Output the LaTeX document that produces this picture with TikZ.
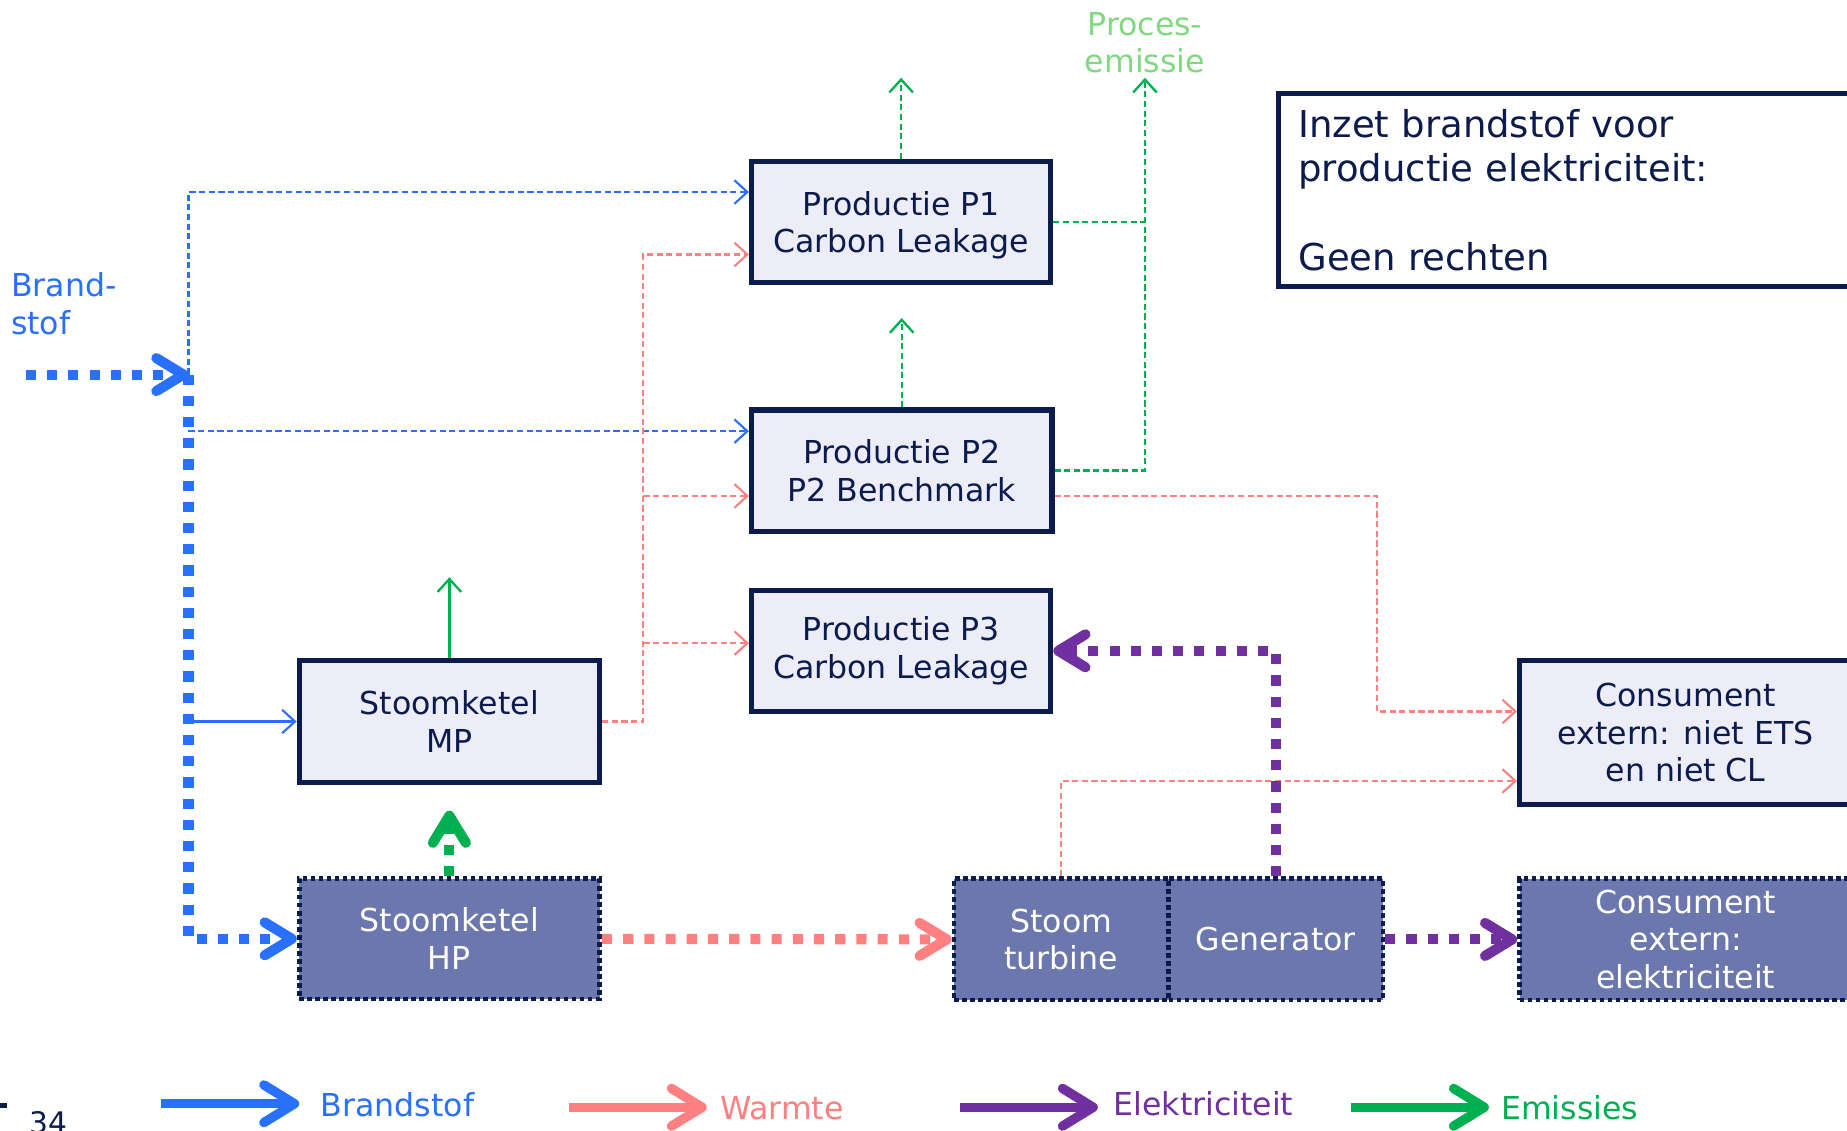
\documentclass[tikz,border=0pt]{standalone}
\usepackage{fontspec}
\setmainfont{DejaVu Sans}
\usetikzlibrary{arrows.meta,calc}
\definecolor{navy}{HTML}{0B1B4D}
\definecolor{boxfill}{HTML}{ECEDF6}
\definecolor{darkfill}{HTML}{6C78AD}
\definecolor{brandblue}{HTML}{2970FF}
\definecolor{warm}{HTML}{FF8080}
\definecolor{elec}{HTML}{7030A0}
\definecolor{emis}{HTML}{00B050}
\definecolor{lightemis}{HTML}{80D880}
\begin{document}
\begin{tikzpicture}[x=0.5pt,y=-0.5pt,
  boxfont/.style={font=\fontsize{13.4}{16}\selectfont},
  lightbox/.style={boxfont,draw=navy,line width=2.2pt,fill=boxfill,text=navy,align=center,inner sep=0pt},
  darkbox/.style={boxfont,draw=navy,line width=2pt,dash pattern=on 2pt off 1.4pt,fill=darkfill,text=white,align=center,inner sep=0pt},
  thinc/.style={draw=#1,line width=0.9pt,dash pattern=on 2.6pt off 1.5pt,-{Straight Barb[length=5.5pt,width=10pt]}},
  thickc/.style={draw=#1,line width=4.3pt,dash pattern=on 4.3pt off 4.7pt,-{Straight Barb[length=11.5pt,width=14pt,round]}},
  legarrow/.style={draw=#1,line width=4pt,-{Straight Barb[length=13pt,width=16pt,round]}},
  legtext/.style={boxfont,text=#1,anchor=base west,inner sep=0pt},
]
\useasboundingbox (0,0) rectangle (1568,960);

% boxes
\node[lightbox,minimum width=127pt,minimum height=51.5pt,text depth=-1pt] (P1) at (765,188.5) {Productie P1\\Carbon Leakage};
\node[lightbox,minimum width=127.5pt,minimum height=51.5pt] (P2) at (765.5,399.5) {Productie P2\\P2 Benchmark};
\node[lightbox,minimum width=127pt,minimum height=51.5pt] (P3) at (765,552.5) {Productie P3\\Carbon Leakage};
\node[lightbox,minimum width=127.5pt,minimum height=51.5pt] (MP) at (381.5,612.5) {Stoomketel\\MP};
\node[darkbox,minimum width=127.5pt,minimum height=51pt] (HP) at (381.5,797) {Stoomketel\\HP};
\node[darkbox,minimum width=91pt,minimum height=51.5pt] (TB) at (901,797.5) {Stoom\\turbine};
\node[darkbox,minimum width=91pt,minimum height=51.5pt] (GEN) at (1083,797.5) {Generator};
\node[lightbox,minimum width=141pt,minimum height=61pt] (CN) at (1431,622) {Consument\\extern: niet ETS\\en niet CL};
\node[darkbox,minimum width=141pt,minimum height=51.5pt] (CE) at (1431,797.5) {Consument\\extern:\\elektriciteit};
\node[draw=navy,line width=2.2pt,fill=white,text=navy,anchor=north west,
      minimum width=245.5pt,minimum height=82pt,text width=228.5pt,inner xsep=7.5pt,align=left,
      font=\fontsize{15.7}{18.8}\selectfont] (INZ) at (1083,77)
      {Inzet brandstof voor\\productie elektriciteit:\\[18.8pt]Geen rechten};

% labels
\node[boxfont,text=brandblue,align=left,anchor=north west,inner sep=0pt] (LB) at (9,231) {Brand-\\stof};
\node[boxfont,text=lightemis,align=center,anchor=north,inner sep=0pt] (LP) at (972,10) {Proces-\\emissie};

% fuel
\coordinate (BS) at (22,318);
\coordinate (J) at (160,318);
\draw[thickc=brandblue] (BS) -- (J);
\draw[thickc=brandblue] (J) |- (HP.west);
\draw[thinc=brandblue] (J) |- ([yshift=12.75pt]P1.west);
\coordinate (P2b) at ([yshift=16.75pt]P2.west);
\draw[thinc=brandblue] (J |- P2b) -- (P2b);
\draw[brandblue,line width=0.9pt,-{Straight Barb[length=5.5pt,width=10pt]}] (J |- MP.west) -- (MP.west);

% heat
\coordinate (RV) at ([xshift=17.5pt]MP.east);
\draw[thinc=warm] (MP.east) -- (RV) |- ([yshift=-13.75pt]P1.west);
\coordinate (P2r) at ([yshift=-10.75pt]P2.west);
\draw[thinc=warm] (RV |- P2r) -- (P2r);
\coordinate (P3r) at ([yshift=3.25pt]P3.west);
\draw[thinc=warm] (RV |- P3r) -- (P3r);
\coordinate (RX) at (1169,421);
\draw[thinc=warm] ([yshift=-10.75pt]P2.east) -- (RX) |- ([yshift=9pt]CN.west);
\draw[thinc=warm] (TB.north) |- ([yshift=-20.5pt]CN.west);
\draw[thickc=warm] (HP.east) -- (TB.west);

% electricity
\draw[thickc=elec] (GEN.north) |- (P3.east);
\draw[thickc=elec] (GEN.east) -- (CE.west);

% emissions
\coordinate (E1) at (766,66);
\coordinate (E2) at (766,270);
\coordinate (E3) at (382,490);
\coordinate (PE) at (972,66);
\draw[thinc=emis,line width=1pt] (P1.north) -- (P1.north |- E1);
\draw[thinc=emis,line width=1pt] (P2.north) -- (P2.north |- E2);
\draw[thinc=emis,line width=1pt,-] (P1.east) -- (PE |- P1.east);
\draw[thinc=emis,line width=1pt] (P2.east) -| (PE);
\draw[emis,line width=1pt,-{Straight Barb[length=5.5pt,width=10pt]}] (MP.north) -- (MP.north |- E3);
\draw[thickc=emis,shorten >=11pt] (HP.north) -- (MP.south);

% legend
\coordinate (L1a) at (137,937); \coordinate (L1b) at (254,937);
\coordinate (L2a) at (483,940); \coordinate (L2b) at (600,940);
\coordinate (L3a) at (815,940); \coordinate (L3b) at (932,940);
\coordinate (L4a) at (1147,940); \coordinate (L4b) at (1264,940);
\draw[legarrow=brandblue] (L1a) -- (L1b);
\draw[legarrow=warm] (L2a) -- (L2b);
\draw[legarrow=elec] (L3a) -- (L3b);
\draw[legarrow=emis] (L4a) -- (L4b);
\node[legtext=brandblue] (T1) at (272,948) {Brandstof};
\node[legtext=warm] (T2) at (611,950) {Warmte};
\node[legtext=elec] (T3) at (945,947) {Elektriciteit};
\node[legtext=emis] (T4) at (1274,950) {Emissies};

% page number
\fill[navy] (0,936) rectangle (6,941);
\node[font=\fontsize{12.6}{15}\selectfont,text=navy,anchor=base west,inner sep=0pt] (PG) at (25,962) {34};
\end{tikzpicture}
\end{document}
